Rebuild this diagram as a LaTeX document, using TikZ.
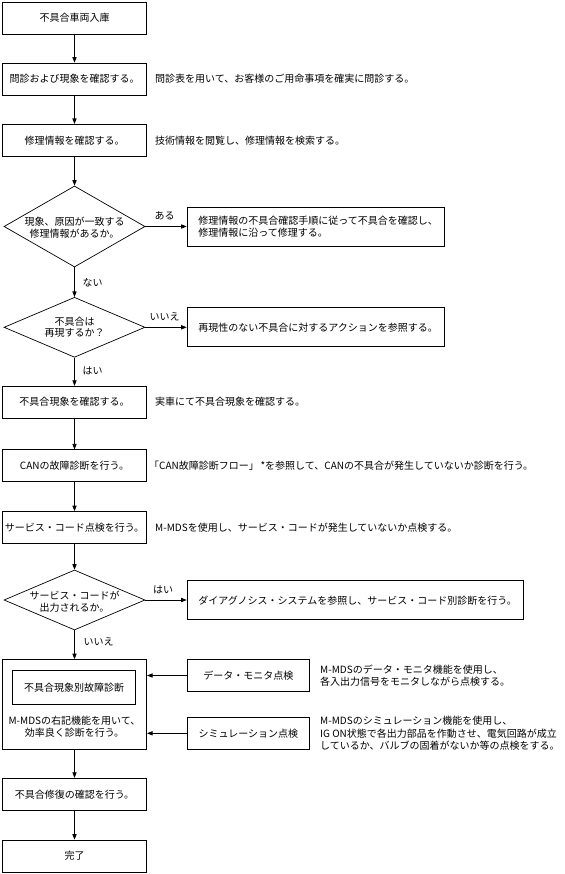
\documentclass[tikz,border=0pt]{standalone}
\usepackage{fontspec}
\setmainfont{Noto Sans CJK JP}
\usetikzlibrary{shapes.geometric,arrows.meta}
\begin{document}
\begin{tikzpicture}[x=1pt,y=-1pt,
  every node/.style={font=\fontsize{10pt}{11.7pt}\selectfont, inner sep=0pt},
  flowbox/.style={draw, line width=0.7pt, minimum width=144.5pt, minimum height=32pt, align=center},
  decide/.style={draw, line width=0.7pt, diamond, minimum width=141pt},
  sidebox/.style={draw, line width=0.7pt, minimum height=39pt},
  toolbox/.style={draw, line width=0.7pt, minimum width=122.7pt, minimum height=32.4pt, align=center},
  note/.style={anchor=west, align=left},
  lbl/.style={anchor=center},
  arr/.style={line width=0.7pt, -{Triangle[length=5.5pt,width=4.2pt]}}
]
\useasboundingbox (0,0) rectangle (564,874);

% main column
\node[flowbox] (b1) at (74.5,18) {不具合車両入庫};
\node[flowbox] (b2) at (74.5,79) {問診および現象を確認する。};
\node[note] (t2) at (155,79) {問診表を用いて、お客様のご用命事項を確実に問診する。};
\node[flowbox] (b3) at (74.5,140.3) {修理情報を確認する。};
\node[note] (t3) at (155,140.3) {技術情報を閲覧し、修理情報を検索する。};

\node[decide, minimum height=81pt] (d1) at (74.5,226.5) {};
\node[align=center] (d1t) at (74.5,228) {現象、原因が一致する\\修理情報があるか。};
\node[sidebox, minimum width=257pt] (r1) at (315.5,226.7) {};
\node[note] (r1t) at ([xshift=11.5pt]r1.west) {修理情報の不具合確認手順に従って不具合を確認し、\\修理情報に沿って修理する。};
\node[lbl] (l1) at (164.5,216) {ある};
\node[note] (l2) at (82.5,283) {ない};

\node[decide, minimum height=60pt] (d2) at (74.5,327.3) {};
\node[align=center] (d2t) at (74.5,327.3) {不具合は\\再現するか？};
\node[sidebox, minimum width=257pt] (r2) at (315.5,327.3) {};
\node[note] (r2t) at ([xshift=11.5pt]r2.west) {再現性のない不具合に対するアクションを参照する。};
\node[lbl] (l3) at (164.5,317) {いいえ};
\node[note] (l4) at (82.5,371) {はい};

\node[flowbox] (b4) at (74.5,402.2) {不具合現象を確認する。};
\node[note] (t4) at (155,402.2) {実車にて不具合現象を確認する。};
\node[flowbox] (b5) at (74.5,465.8) {CANの故障診断を行う。};
\node[note] (t5) at (149,465.8) {「CAN故障診断フロー」\,*を参照して、CANの不具合が発生していないか診断を行う。};
\node[flowbox] (b6) at (74.5,527.5) {サービス・コード点検を行う。};
\node[note] (t6) at (155,527.5) {M-MDSを使用し、サービス・コードが発生していないか点検する。};

\node[decide, minimum height=60pt] (d3) at (74.5,600) {};
\node[align=center] (d3t) at (74.5,602) {サービス・コードが\\出力されるか。};
\node[sidebox, minimum width=336.4pt] (r3) at (355.2,600.3) {};
\node[note] (r3t) at ([xshift=11.5pt]r3.west) {ダイアグノシス・システムを参照し、サービス・コード別診断を行う。};
\node[lbl] (l5) at (163,590) {はい};
\node[note] (l6) at (83.5,642) {いいえ};

% fault diagnosis block
\node[draw, line width=0.7pt, minimum width=144.4pt, minimum height=90pt] (big) at (74.5,704.5) {};
\node[draw, line width=0.7pt, minimum width=123.4pt, minimum height=33.3pt] (inner) at (74,687.3) {不具合現象別故障診断};
\node[align=center] (bigt) at (74.5,727) {M-MDSの右記機能を用いて、\\効率良く診断を行う。};
\node[toolbox] (dm) at (248.4,675.5) {データ・モニタ点検};
\node[note] (dmt) at (320,675.5) {M-MDSのデータ・モニタ機能を使用し、\\各入出力信号をモニタしながら点検する。};
\node[toolbox] (sim) at (248.4,733.3) {シミュレーション点検};
\node[note, font=\fontsize{10pt}{12.5pt}\selectfont] (simt) at (320,733.3) {M-MDSのシミュレーション機能を使用し、\\IG ON状態で各出力部品を作動させ、電気回路が成立\\しているか、バルブの固着がないか等の点検をする。};

\node[flowbox] (b7) at (74.5,794.2) {不具合修復の確認を行う。};
\node[flowbox] (b8) at (74.5,856) {完了};

% connectors
\draw[arr] (b1) -- (b2);
\draw[arr] (b2) -- (b3);
\draw[arr] (b3) -- (d1);
\draw[arr] (d1.east) -- (d1.east -| r1.west);
\draw[arr] (d1) -- (d2);
\draw[arr] (d2.east) -- (d2.east -| r2.west);
\draw[arr] (d2) -- (b4);
\draw[arr] (b4) -- (b5);
\draw[arr] (b5) -- (b6);
\draw[arr] (b6) -- (d3);
\draw[arr] (d3.east) -- (d3.east -| r3.west);
\draw[arr] (d3) -- (big);
\draw[arr] (dm.west) -- (dm.west -| big.east);
\draw[arr] (sim.west) -- (sim.west -| big.east);
\draw[arr] (big) -- (b7);
\draw[arr] (b7) -- (b8);
\end{tikzpicture}
\end{document}
